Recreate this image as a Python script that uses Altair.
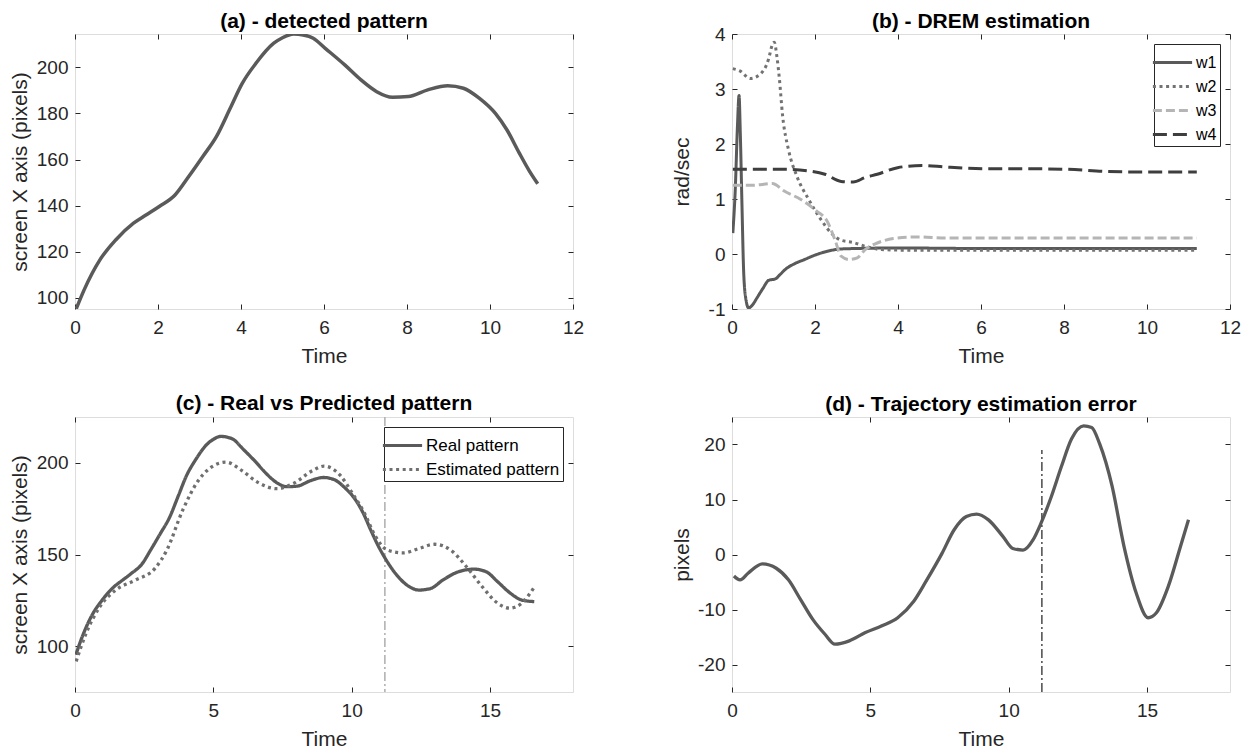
import altair as alt
import pandas as pd

FONT = "Liberation Sans"
AXC = "#262626"
W, H = 498, 275

# ---------------- data ----------------
real_t = [0.03, 0.22, 0.6, 0.98, 1.41, 1.7, 2.03, 2.41, 2.74, 3.08,
          3.41, 3.74, 4.03, 4.36, 4.79, 5.0, 5.27, 5.5, 5.74, 6.03,
          6.5, 6.89, 7.27, 7.65, 8.03, 8.5, 8.98, 9.36, 9.74, 10.13,
          10.41, 10.7, 10.95, 11.15, 11.58, 12.0, 12.44, 12.86, 13.29, 13.86,
          14.43, 14.86, 15.28, 15.71, 16.14, 16.6]
real_y = [95.3, 103.5, 116.5, 125.1, 132.4, 135.8, 139.6, 144.6, 152.6, 161.3,
          170.0, 182.2, 193.0, 201.7, 210.4, 212.8, 214.4, 214.0, 212.6, 208.2,
          201.0, 194.5, 189.4, 187.0, 187.3, 190.2, 192.0, 190.9, 186.6, 180.0,
          172.8, 163.0, 155.0, 149.5, 139.7, 133.3, 130.6, 131.5, 136.0, 140.6,
          142.0, 140.6, 135.1, 129.2, 125.2, 124.3]
detected_end = 11.15

est_t = [0.04, 0.4, 0.9, 1.47, 2.18, 2.89, 3.32, 3.89, 4.46, 5.03,
         5.46, 6.03, 6.59, 7.3, 7.88, 8.59, 9.0, 9.59, 10.0, 10.44,
         10.87, 11.3, 11.87, 12.44, 13.0, 13.58, 14.15, 14.72, 15.28, 15.71,
         16.14, 16.57]
est_y = [91.7, 107.0, 121.6, 130.6, 136.0, 142.4, 152.4, 174.1, 190.4, 198.6,
         200.4, 195.8, 189.5, 185.9, 188.6, 195.8, 198.2, 193.1, 184.0, 173.2,
         159.6, 152.4, 150.9, 153.3, 155.6, 152.4, 143.3, 132.4, 123.4, 120.7,
         123.4, 131.5]

err_t = [0.07, 0.29, 0.58, 1.1, 1.6, 2.04, 2.48, 2.92, 3.36, 3.72,
         4.24, 4.82, 5.4, 5.99, 6.57, 7.01, 7.59, 8.03, 8.47, 8.84,
         9.27, 9.79, 10.15, 10.52, 10.88, 11.17, 11.54, 11.9, 12.27, 12.71,
         13.0, 13.29, 13.73, 14.17, 14.61, 15.04, 15.34, 15.77, 16.21, 16.5]
err_y = [-3.9, -4.6, -3.4, -1.7, -2.5, -4.6, -8.2, -11.8, -14.5, -16.3,
         -15.7, -14.2, -13.0, -11.5, -8.5, -4.9, 0.2, 4.5, 6.9, 7.35,
         6.3, 3.3, 1.1, 0.8, 2.65, 5.7, 10.5, 15.9, 21.0, 23.4,
         23.1, 20.1, 12.6, 1.45, -7.0, -11.5, -10.6, -5.8, 1.45, 6.3]

w1_t = [0.02, 0.08, 0.13, 0.17, 0.2, 0.24, 0.28, 0.33, 0.4, 0.5,
        0.6, 0.75, 0.88, 1.05, 1.15, 1.3, 1.5, 1.75, 2.0, 2.3,
        2.6, 3.0, 4.0, 6.0, 8.0, 10.0, 11.2]
w1_y = [0.38, 1.2, 2.3, 2.88, 2.2, 0.9, -0.3, -0.8, -0.98, -0.92,
        -0.8, -0.62, -0.48, -0.45, -0.38, -0.27, -0.18, -0.1, -0.02, 0.05,
        0.09, 0.1, 0.11, 0.1, 0.1, 0.1, 0.1]
w2_t = [0.02, 0.19, 0.44, 0.68, 0.88, 0.97, 1.02, 1.08, 1.14, 1.22,
        1.36, 1.56, 1.85, 2.14, 2.43, 2.63, 2.92, 3.21, 3.6, 4.19,
        6.0, 8.0, 10.0, 11.2]
w2_y = [3.37, 3.33, 3.19, 3.27, 3.54, 3.8, 3.85, 3.6, 3.2, 2.51,
        1.9, 1.42, 0.99, 0.63, 0.35, 0.25, 0.21, 0.14, 0.08, 0.07,
        0.07, 0.07, 0.07, 0.07]
w3_t = [0.02, 0.49, 0.97, 1.27, 1.66, 2.04, 2.29, 2.48, 2.63, 2.82,
        3.02, 3.21, 3.5, 3.89, 4.48, 5.16, 7.0, 9.0, 11.2]
w3_y = [1.25, 1.25, 1.28, 1.14, 0.99, 0.78, 0.6, 0.26, -0.04, -0.1,
        -0.07, 0.08, 0.2, 0.28, 0.31, 0.29, 0.29, 0.29, 0.29]
w4_t = [0.02, 1.27, 1.85, 2.24, 2.63, 2.92, 3.21, 3.5, 3.99, 4.58,
        5.16, 6.13, 7.11, 8.08, 9.06, 10.03, 11.2]
w4_y = [1.54, 1.54, 1.51, 1.45, 1.32, 1.31, 1.39, 1.45, 1.57, 1.61,
        1.58, 1.55, 1.55, 1.54, 1.5, 1.49, 1.49]

split_t = [11.2]
err_marker_low = [-25]
err_marker_high = [19]

w_names = ["w1", "w2", "w3", "w4"]
w_colors = ["#5a5a5a", "#727272", "#b5b5b5", "#3e3e3e"]
w_dashes = [[1, 0], [3, 3.6], [9, 4], [14, 6]]

c_names = ["Real pattern", "Estimated pattern"]
c_colors = ["#5a5a5a", "#6f6f6f"]
c_dashes = [[1, 0], [3, 3.6]]

# ---------------- helpers ----------------
LBL = "'' + datum.value"


def x_axis(vals):
    return alt.Axis(values=vals, title="Time", ticks=False, tickSize=0, domain=False,
                    labelPadding=9, titlePadding=8, labelExpr=LBL, labelFlush=False,
                    grid=True, gridDash=[5, H - 10, 5, 1000], gridColor=AXC, gridWidth=1,
                    labelFontSize=19, titleFontSize=21, labelColor=AXC, titleColor=AXC,
                    labelFont=FONT, titleFont=FONT, titleFontWeight="normal")


def y_axis(vals, title, ext):
    return alt.Axis(values=vals, title=title, ticks=False, tickSize=0, domain=False,
                    labelPadding=7, titlePadding=5, labelExpr=LBL, labelFlush=False,
                    minExtent=ext, maxExtent=ext,
                    grid=True, gridDash=[5, W - 10, 5, 1000], gridColor=AXC, gridWidth=1,
                    labelFontSize=19, titleFontSize=21, labelColor=AXC, titleColor=AXC,
                    labelFont=FONT, titleFont=FONT, titleFontWeight="normal")


def ttl(text, off):
    return alt.TitleParams(text=text, font=FONT, fontSize=21, fontWeight="bold",
                           color="black", offset=off, anchor="middle", baseline="bottom")


SYM = "M-1.4,0H1.4"


def legend(fsize, rowpad):
    return alt.Legend(orient="top-right", offset=10, title=None, symbolType=SYM,
                      symbolStrokeWidth=3, symbolSize=784, rowPadding=rowpad,
                      labelFontSize=fsize, labelFont=FONT, labelColor="black",
                      fillColor="white", strokeColor=AXC, padding=3, labelOffset=8)


# ---------------- panel (a) ----------------
df_real = pd.DataFrame({"t": real_t, "y": real_y})
df_a = df_real[df_real["t"] <= detected_end]

pa = alt.Chart(df_a).mark_line(color="#5a5a5a", strokeWidth=3.5, interpolate="monotone",
                               clip=True).encode(
    x=alt.X("t:Q", scale=alt.Scale(domain=[0, 12], nice=False), axis=x_axis(list(range(0, 13, 2)))),
    y=alt.Y("y:Q", scale=alt.Scale(domain=[95.2, 214.4], nice=False, zero=False),
            axis=y_axis(list(range(100, 201, 20)), "screen X axis (pixels)", 40)),
).properties(width=W, height=H, title=ttl("(a) - detected pattern", -19))

# ---------------- panel (b) ----------------
rows = []
for name, ts, ys in zip(w_names, [w1_t, w2_t, w3_t, w4_t], [w1_y, w2_y, w3_y, w4_y]):
    for t, v in zip(ts, ys):
        rows.append({"t": t, "y": v, "s": name})
df_b = pd.DataFrame(rows)
leg_b = legend(16, 0)
pb = alt.Chart(df_b).mark_line(strokeWidth=3, interpolate="monotone", clip=True).encode(
    x=alt.X("t:Q", scale=alt.Scale(domain=[0, 12], nice=False), axis=x_axis(list(range(0, 13, 2)))),
    y=alt.Y("y:Q", scale=alt.Scale(domain=[-1, 4], nice=False, zero=False),
            axis=y_axis(list(range(-1, 5)), "rad/sec", 35)),
    color=alt.Color("s:N", scale=alt.Scale(domain=w_names, range=w_colors), legend=leg_b),
    strokeDash=alt.StrokeDash("s:N", scale=alt.Scale(domain=w_names, range=w_dashes), legend=leg_b),
).properties(width=W, height=H, title=ttl("(b) - DREM estimation", -28))

# ---------------- panel (c) ----------------
df_c = pd.concat([
    pd.DataFrame({"t": real_t, "y": real_y, "s": c_names[0]}),
    pd.DataFrame({"t": est_t, "y": est_y, "s": c_names[1]}),
])
leg_c = legend(17, -2)
c_lines = alt.Chart(df_c).mark_line(strokeWidth=3.3, interpolate="monotone", clip=True).encode(
    x=alt.X("t:Q", scale=alt.Scale(domain=[0, 18], nice=False), axis=x_axis([0, 5, 10, 15])),
    y=alt.Y("y:Q", scale=alt.Scale(domain=[75, 225], nice=False, zero=False),
            axis=y_axis([100, 150, 200], "screen X axis (pixels)", 40)),
    color=alt.Color("s:N", scale=alt.Scale(domain=c_names, range=c_colors), legend=leg_c),
    strokeDash=alt.StrokeDash("s:N", scale=alt.Scale(domain=c_names, range=c_dashes), legend=leg_c),
)
c_split = alt.Chart(pd.DataFrame({"t": split_t})).mark_rule(
    color="#b3b3b3", strokeWidth=1.6, strokeDash=[9, 3, 2, 3]).encode(x="t:Q")
pc = alt.layer(c_split, c_lines).properties(width=W, height=H,
                                            title=ttl("(c) - Real vs Predicted pattern", -19))

# ---------------- panel (d) ----------------
df_d = pd.DataFrame({"t": err_t, "y": err_y})
d_line = alt.Chart(df_d).mark_line(color="#5a5a5a", strokeWidth=3.3, interpolate="monotone",
                                   clip=True).encode(
    x=alt.X("t:Q", scale=alt.Scale(domain=[0, 18], nice=False), axis=x_axis([0, 5, 10, 15])),
    y=alt.Y("y:Q", scale=alt.Scale(domain=[-25, 25], nice=False, zero=False),
            axis=y_axis([-20, -10, 0, 10, 20], "pixels", 35)),
)
d_split = alt.Chart(pd.DataFrame({"t": split_t, "y": err_marker_low, "y2": err_marker_high})).mark_rule(
    color="#555555", strokeWidth=1.6, strokeDash=[9, 3, 2, 3]).encode(
    x="t:Q", y="y:Q", y2="y2:Q")
pd_ = alt.layer(d_line, d_split).properties(width=W, height=H,
                                            title=ttl("(d) - Trajectory estimation error", -19))

row1 = alt.hconcat(pa, pb, spacing=85).resolve_scale(color="independent", strokeDash="independent")
row2 = alt.hconcat(pc, pd_, spacing=96).resolve_scale(color="independent", strokeDash="independent")
chart = alt.vconcat(row1, row2, spacing=25).resolve_scale(
    color="independent", strokeDash="independent"
).properties(
    padding={"left": 0, "top": 2, "right": 0, "bottom": 0}
).configure_view(stroke=AXC, strokeWidth=1).configure(background="white")

chart.save("out.html", embed_options={"renderer": "svg", "actions": False})
